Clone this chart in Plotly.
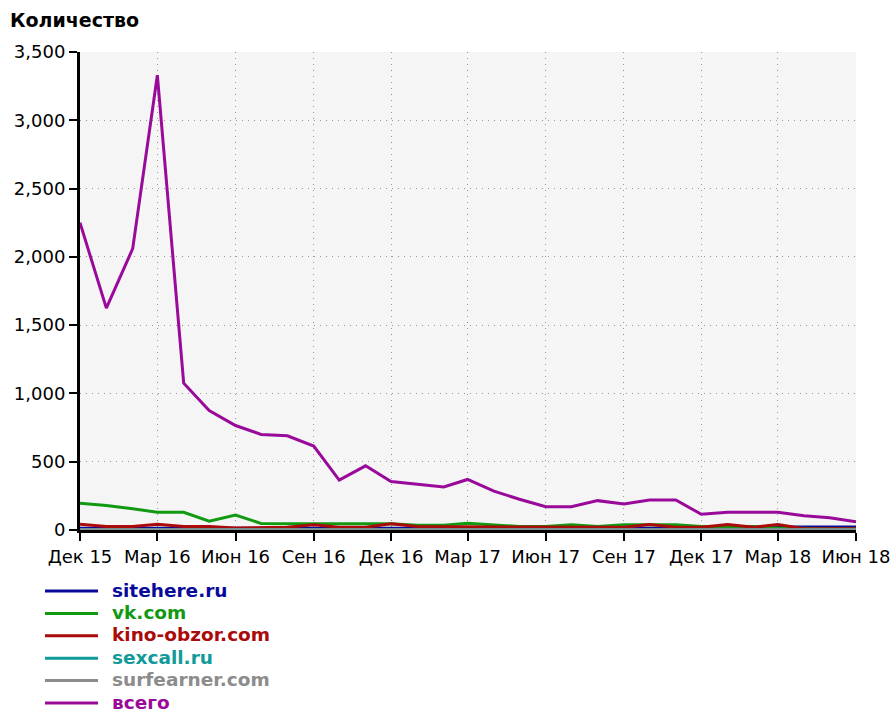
import pandas as pd
import plotly.graph_objects as go

# Monthly observations, Dec 2015 .. Jun 2018
months = pd.date_range("2015-12-01", "2018-06-01", freq="MS")

sitehere = [12, 12, 12, 12, 12, 12, 12, 12, 12, 12, 12, 12, 12, 12, 12, 12,
            12, 12, 12, 12, 12, 12, 12, 12, 12, 12, 12, 22, 22, 22, 22]
vk = [195, 180, 155, 130, 130, 65, 110, 48, 45, 45, 45, 45, 45, 35, 35, 50,
      35, 25, 25, 38, 25, 38, 38, 38, 25, 25, 25, 15, 10, 10, 10]
kino_obzor = [42, 25, 25, 42, 25, 25, 15, 20, 20, 38, 20, 20, 45, 25, 25, 25,
              20, 20, 20, 20, 20, 20, 40, 20, 20, 40, 20, 40, 10, 10, 10]
sexcall = [3] * 31
surfearner = [1, 1, 1, 1, 1, 1, 1, 1, 1, 1, 1, 1, 1, 1, 1, 1,
              1, 1, 1, 1, 1, 1, 1, 1, 1, 1, 1, 4, 4, 1, 1]
total = [2250, 1625, 2060, 3330, 1075, 875, 765, 700, 690, 615, 365, 470,
         355, 335, 315, 370, 285, 225, 170, 170, 215, 190, 220, 220, 115,
         130, 130, 130, 105, 90, 60]

series_names = ["sitehere.ru", "vk.com", "kino-obzor.com", "sexcall.ru",
                "surfearner.com", "всего"]
series_values = [sitehere, vk, kino_obzor, sexcall, surfearner, total]
series_colors = ["#0a0a9a", "#119a11", "#aa0a0a", "#119a9a", "#8c8c8c", "#9a0a9a"]

tick_dates = pd.date_range("2015-12-01", "2018-06-01", freq="3MS")
tick_labels = ["Дек 15", "Мар 16", "Июн 16", "Сен 16", "Дек 16", "Мар 17",
               "Июн 17", "Сен 17", "Дек 17", "Мар 18", "Июн 18"]
y_ticks = [0, 500, 1000, 1500, 2000, 2500, 3000, 3500]

W, H = 892, 713
L, R, T, B = 80, 36, 52, 183
plot_w, plot_h = W - L - R, H - T - B

fig = go.Figure()
for name, vals, col in zip(series_names, series_values, series_colors):
    fig.add_trace(go.Scatter(x=months, y=vals, mode="lines", name=name,
                             line=dict(color=col, width=3), showlegend=False))

# legend block under the plot: a sample line and a coloured label per series
def px_x(px):
    return (px - L) / plot_w

def px_y(py):
    return (H - B - py) / plot_h

shapes, annotations = [], []
row_y0, row_step = 591, 22.4
for i, (name, col) in enumerate(zip(series_names, series_colors)):
    yy = row_y0 + i * row_step
    shapes.append(dict(type="line", xref="paper", yref="paper",
                       x0=px_x(45), x1=px_x(98), y0=px_y(yy), y1=px_y(yy),
                       line=dict(color=col, width=3)))
    annotations.append(dict(xref="paper", yref="paper", x=px_x(111), y=px_y(yy - 1),
                            xanchor="left", yanchor="middle", showarrow=False,
                            text=name, borderpad=0,
                            font=dict(family="DejaVu Sans", size=18.5,
                                      color=col, weight="bold")))

fig.update_layout(
    width=W, height=H,
    margin=dict(l=L, r=R, t=T, b=B, pad=0, autoexpand=False),
    paper_bgcolor="white",
    plot_bgcolor="#f5f5f5",
    title=dict(text="Количество", x=10 / W, xanchor="left",
               y=1 - 20 / H, yanchor="middle", xref="container", yref="container",
               font=dict(family="DejaVu Sans", size=19, color="black",
                         weight="bold")),
    shapes=shapes,
    annotations=annotations,
    showlegend=False,
)

fig.update_xaxes(
    range=[months[0], months[-1]], automargin=False,
    tickvals=tick_dates, ticktext=tick_labels,
    showline=True, linecolor="black", linewidth=3,
    ticks="outside", ticklen=8, tickwidth=2, tickcolor="black",
    showgrid=True, gridcolor="#9a9a9a", gridwidth=1, griddash="1px,5px",
    zeroline=False,
    tickfont=dict(family="DejaVu Sans", size=18, color="black"),
)
fig.update_yaxes(
    range=[0, 3500], automargin=False,
    tickvals=y_ticks, tickformat=",",
    showline=True, linecolor="black", linewidth=3,
    ticks="outside", ticklen=8, tickwidth=2, tickcolor="black",
    showgrid=True, gridcolor="#9a9a9a", gridwidth=1, griddash="1px,5px",
    zeroline=False,
    tickfont=dict(family="DejaVu Sans", size=18, color="black"),
)

fig.write_html("out.html")
